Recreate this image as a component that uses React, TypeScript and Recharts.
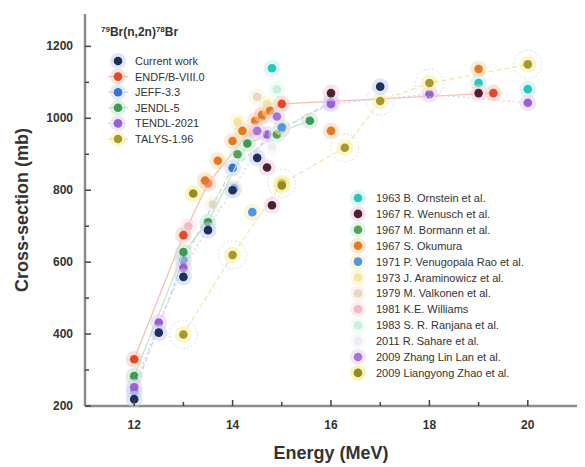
import { ComposedChart, Scatter, XAxis, YAxis } from "recharts";

type Pt = [number, number];

const X_TICKS = [12, 13, 14, 15, 16, 17, 18, 19, 20];
const X_LABELED = [12, 14, 16, 18, 20];
const Y_TICKS = [200, 300, 400, 500, 600, 700, 800, 900, 1000, 1100, 1200];
const Y_LABELED = [200, 400, 600, 800, 1000, 1200];

// evaluations / this work: [energy MeV, cross-section mb]
const CURRENT_WORK: Pt[] = [[12, 219], [12.5, 404], [13, 559], [13.5, 689], [14, 800], [14.5, 890], [17, 1088]];
const ENDF_B8: Pt[] = [[12, 330], [13, 675], [13.5, 819], [14.6, 1005], [15, 1040], [19.3, 1070]];
const JEFF_33: Pt[] = [[12, 240], [13, 605], [14, 862], [15, 970], [16, 1045]];
const JENDL_5: Pt[] = [[12, 283], [13, 628], [13.5, 711], [14.3, 930], [15.57, 993]];
const TENDL_2021: Pt[] = [[12, 252], [12.5, 432], [13, 584], [14.7, 955], [16, 1040], [18, 1067], [20, 1043]];
const TALYS_196: Pt[] = [[13, 399], [14, 620], [15, 819], [16.28, 918], [17, 1048], [18, 1098], [20, 1150]];

// experimental data
const ORNSTEIN_1963: Pt[] = [[14.8, 1139], [19, 1098], [20, 1081]];
const WENUSCH_1967: Pt[] = [[14.7, 863], [14.8, 758], [16, 1070], [19, 1070]];
const BORMANN_1967: Pt[] = [[14.1, 900], [14.9, 955]];
const OKUMURA_1967: Pt[] = [[13.44, 827], [13.7, 882], [14, 937], [14.2, 965], [14.46, 993], [14.6, 1010], [14.76, 1021], [16, 965], [19, 1137]];
const RAO_1971: Pt[] = [[14.03, 805], [14.4, 739], [15, 975]];
const ARAMINOWICZ_1973: Pt[] = [[14.1, 990], [14.7, 1040]];
const VALKONEN_1979: Pt[] = [[13.6, 760], [14.5, 1060]];
const WILLIAMS_1981: Pt[] = [[13.1, 700], [14.4, 960]];
const RANJANA_1983: Pt[] = [[12, 280], [14.9, 1080]];
const SAHARE_2011: Pt[] = [[14.8, 920]];
const ZHANG_2009: Pt[] = [[14.5, 965], [14.9, 1005]];
const ZHAO_2009: Pt[] = [[13.2, 791], [15, 813]];

type Series = { name: string; data: Pt[]; color: string; halo: string; line?: string; dash?: string; ring?: boolean };

const LIBRARIES: Series[] = [
  { name: "Current work", data: CURRENT_WORK, color: "#1f2f5c", halo: "#c4cfee" },
  { name: "ENDF/B-VIII.0", data: ENDF_B8, color: "#e8452c", halo: "#f8c6b8", line: "#f7bfb2" },
  { name: "JEFF-3.3", data: JEFF_33, color: "#3d6fd6", halo: "#c4d6f6", line: "#c2d5f4", dash: "5 3" },
  { name: "JENDL-5", data: JENDL_5, color: "#3f9a55", halo: "#c0e6ca", line: "#c0e8ca" },
  { name: "TENDL-2021", data: TENDL_2021, color: "#9a5fd3", halo: "#e2cef6", line: "#dfccf5", dash: "2 3" },
  { name: "TALYS-1.96", data: TALYS_196, color: "#a89a2a", halo: "#f6ee9c", line: "#f2e9a4", dash: "5 3", ring: true },
];

const EXPERIMENTS: Series[] = [
  { name: "1963 B. Ornstein et al.", data: ORNSTEIN_1963, color: "#2cc4c0", halo: "#bff2f0" },
  { name: "1967 R. Wenusch et al.", data: WENUSCH_1967, color: "#4a2232", halo: "#f6cce0" },
  { name: "1967 M. Bormann et al.", data: BORMANN_1967, color: "#5c9e52", halo: "#c8f2dc" },
  { name: "1967 S. Okumura", data: OKUMURA_1967, color: "#e47a1e", halo: "#f8d6b0" },
  { name: "1971 P. Venugopala Rao et al.", data: RAO_1971, color: "#4c98e6", halo: "#fcebb4" },
  { name: "1973 J. Araminowicz et al.", data: ARAMINOWICZ_1973, color: "#f2e6a0", halo: "#fbf4c8" },
  { name: "1979 M. Valkonen et al.", data: VALKONEN_1979, color: "#e8d8c0", halo: "#f6eee2" },
  { name: "1981 K.E. Williams", data: WILLIAMS_1981, color: "#f2b8c4", halo: "#fbe0e6" },
  { name: "1983 S. R. Ranjana et al.", data: RANJANA_1983, color: "#c4f0dc", halo: "#e6faf0" },
  { name: "2011 R. Sahare et al.", data: SAHARE_2011, color: "#ececf2", halo: "#f6f6fa" },
  { name: "2009 Zhang Lin Lan et al.", data: ZHANG_2009, color: "#a873dc", halo: "#e6d4f8" },
  { name: "2009 Liangyong Zhao et al.", data: ZHAO_2009, color: "#978a26", halo: "#f6ee7a" },
];

const FONT = "'Liberation Sans', Arial, sans-serif";
const AXIS = "#8c8c8c";

const toPts = (a: Pt[]) => a.map(([x, y]) => ({ x, y }));

const dot = (s: Series) => (p: any) => {
  if (p.cx == null || p.cy == null) return <g />;
  return (
    <g>
      <circle cx={p.cx} cy={p.cy} r={8.5} fill={s.halo} opacity={0.5} />
      {s.ring && <circle cx={p.cx} cy={p.cy} r={14} fill="none" stroke="#dedede" strokeDasharray="2 2" />}
      <circle cx={p.cx} cy={p.cy} r={4.3} fill={s.color} />
    </g>
  );
};

const XTick = ({ x, y, payload }: any) => {
  const major = X_LABELED.includes(payload.value);
  return (
    <g>
      <line x1={x} x2={x} y1={y} y2={y - (major ? 6 : 4)} stroke="#444" strokeWidth={1.5} />
      {major && (
        <text x={x} y={y + 23} textAnchor="middle" fontFamily={FONT} fontSize={12} fontWeight="bold" fill="#333">
          {payload.value}
        </text>
      )}
    </g>
  );
};

const YTick = ({ x, y, payload }: any) => {
  const major = Y_LABELED.includes(payload.value);
  return (
    <g>
      <line x1={x} x2={x + (major ? 6 : 4)} y1={y} y2={y} stroke="#444" strokeWidth={1.5} />
      {major && (
        <text x={x - 12} y={y + 4} textAnchor="end" fontFamily={FONT} fontSize={12} fontWeight="bold" fill="#333">
          {payload.value}
        </text>
      )}
    </g>
  );
};

export default function App() {
  return (
    <div style={{ position: "absolute", left: 0, top: 0, width: 585, height: 467, background: "#fff" }}>
      <ComposedChart width={585} height={467} margin={{ top: 14, right: 8, left: 0, bottom: 0 }}>
        <XAxis
          dataKey="x"
          type="number"
          domain={[11, 21]}
          ticks={X_TICKS}
          interval={0}
          height={61}
          tickSize={0}
          tickMargin={0}
          tickLine={false}
          tick={<XTick />}
          axisLine={{ stroke: AXIS, strokeWidth: 2.5 }}
        />
        <XAxis xAxisId="top" orientation="top" type="number" domain={[11, 21]} height={0} tick={false} tickLine={false} axisLine={{ stroke: AXIS, strokeWidth: 2.5 }} />
        <YAxis
          type="number"
          domain={[200, 1290]}
          ticks={Y_TICKS}
          interval={0}
          width={85}
          tickSize={0}
          tickMargin={0}
          tickLine={false}
          tick={<YTick />}
          axisLine={{ stroke: AXIS, strokeWidth: 2.5 }}
        />
        <YAxis yAxisId="right" orientation="right" type="number" domain={[200, 1290]} width={0} tick={false} tickLine={false} axisLine={{ stroke: AXIS, strokeWidth: 2.5 }} />
        {[...EXPERIMENTS.slice(5, 10), ...LIBRARIES.slice(1), ...EXPERIMENTS.slice(0, 5), ...EXPERIMENTS.slice(10), LIBRARIES[0]].map((s) => (
          <Scatter
            key={s.name}
            name={s.name}
            data={toPts(s.data)}
            dataKey="y"
            shape={dot(s)}
            line={s.line ? { stroke: s.line, strokeWidth: 1.3, strokeDasharray: s.dash } : false}
            isAnimationActive={false}
          />
        ))}
      </ComposedChart>

      <svg width={585} height={467} style={{ position: "absolute", left: 0, top: 0, pointerEvents: "none" }}>
        <g fontFamily={FONT}>
          <text x={101} y={36} fontSize={12} fontWeight="bold" fill="#333">
            <tspan fontSize={8} dy={-4}>79</tspan>
            <tspan dy={4}>Br(n,2n)</tspan>
            <tspan fontSize={8} dy={-4}>78</tspan>
            <tspan dy={4}>Br</tspan>
          </text>

          {LIBRARIES.map((s, i) => {
            const y = 61 + i * 15.6;
            return (
              <g key={s.name}>
                {s.line && <line x1={108} x2={128} y1={y} y2={y} stroke={s.line} strokeWidth={1.3} strokeDasharray={s.dash} />}
                <circle cx={118} cy={y} r={8} fill={s.halo} opacity={0.5} />
                <circle cx={118} cy={y} r={4.3} fill={s.color} />
                <text x={135} y={y + 4} fontSize={11} fill="#333">{s.name}</text>
              </g>
            );
          })}

          {EXPERIMENTS.map((s, i) => {
            const y = 198 + i * 15.9;
            return (
              <g key={s.name}>
                <circle cx={358} cy={y} r={8} fill={s.halo} opacity={0.55} />
                <circle cx={358} cy={y} r={4.3} fill={s.color} />
                <text x={376} y={y + 4} fontSize={11} fill="#333">{s.name}</text>
              </g>
            );
          })}

          <text transform="rotate(-90)" x={-210} y={28} textAnchor="middle" fontSize={18} fontWeight="bold" fill="#333">
            Cross-section (mb)
          </text>
          <text x={331} y={459} textAnchor="middle" fontSize={18} fontWeight="bold" fill="#333">
            Energy (MeV)
          </text>
        </g>
      </svg>
    </div>
  );
}
